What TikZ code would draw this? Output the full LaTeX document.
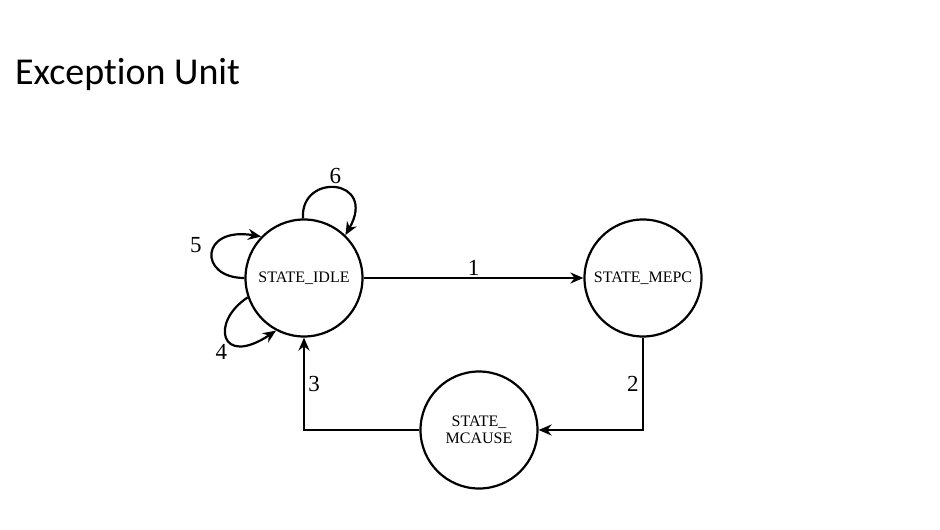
\documentclass[tikz,border=0pt]{standalone}
\usepackage{fontspec}
\setmainfont{Liberation Serif}
\newfontfamily\titlefont[Ligatures=CommonOff]{Carlito}
\usetikzlibrary{arrows.meta}

\begin{document}
\begin{tikzpicture}[x=1pt,y=-1pt,
    state/.style={circle, draw, line width=2.2pt, minimum size=117pt, inner sep=0pt, font=\fontsize{16}{17}\selectfont, align=center},
    arr/.style={line width=2.2pt, -{Stealth[length=13pt,width=11pt]}},
    lbl/.style={font=\fontsize{23}{24}\selectfont}]
  \useasboundingbox (0,0) rectangle (940,530);

  \node[anchor=base west, font=\titlefont\fontsize{38}{40}\selectfont, inner sep=0pt] (title) at (15,84) {Exception Unit};

  \node[state] (idle) at (304,278) {STATE\_IDLE};
  \node[state] (mepc) at (643,278) {STATE\_MEPC};
  \node[state] (mcause) at (479,430) {STATE\_\\MCAUSE};

  \draw[arr] (idle.east) -- node[lbl, above, inner sep=1pt] {1} (mepc.west);
  \draw[arr] (mepc.south) |- node[lbl, pos=0.25, left] {2} (mcause.east);
  \draw[arr] (mcause.west) -| node[lbl, pos=0.75, right] {3} (idle.south);

  % self loops
  \draw[arr] (idle.91) .. controls (300,172) and (378,178) .. node[lbl, pos=0.5, above=0pt] {6} (idle.46);
  \draw[arr] (idle.180) .. controls (198,278) and (200,226) .. node[lbl, pos=0.45, left=6pt, yshift=12pt] {5} (idle.136);
  \draw[arr] (idle.199) .. controls (210,322) and (220,368) .. node[lbl, pos=0.45, below left=0pt, xshift=6pt, yshift=-6pt] {4} (idle.242);
\end{tikzpicture}
\end{document}
